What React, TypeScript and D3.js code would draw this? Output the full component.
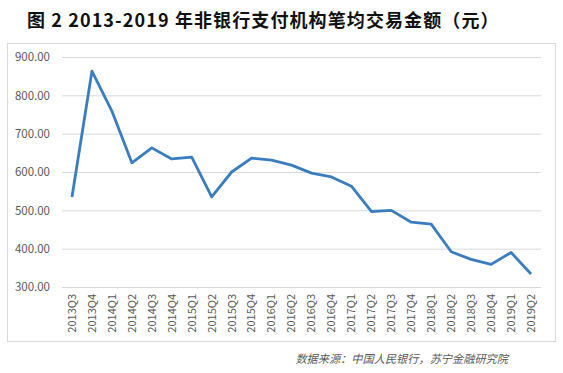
import { useEffect, useRef } from 'react';
import * as d3 from 'd3';

const quarters = [
  '2013Q3', '2013Q4', '2014Q1', '2014Q2', '2014Q3', '2014Q4', '2015Q1', '2015Q2',
  '2015Q3', '2015Q4', '2016Q1', '2016Q2', '2016Q3', '2016Q4', '2017Q1', '2017Q2',
  '2017Q3', '2017Q4', '2018Q1', '2018Q2', '2018Q3', '2018Q4', '2019Q1', '2019Q2',
];
const avgAmount = [
  535, 863, 759, 624, 663, 634, 639, 535,
  600, 636, 631, 618, 597, 587, 563, 497,
  500, 469, 464, 392, 372, 359, 390, 334,
];
const yTicks = [300, 400, 500, 600, 700, 800, 900];

const W = 563;
const H = 373;
const margin = { top: 57, right: 22, bottom: 86, left: 62 };

export default function App() {
  const svgRef = useRef<SVGSVGElement>(null);

  useEffect(() => {
    if (!svgRef.current) return;
    const svg = d3.select(svgRef.current);
    svg.selectAll('*').remove();

    const innerW = W - margin.left - margin.right;
    const innerH = H - margin.top - margin.bottom;
    const font = '"Microsoft YaHei", "Noto Sans CJK SC", "DejaVu Sans", sans-serif';

    svg.append('rect').attr('width', W).attr('height', H).attr('fill', '#fff');

    // title
    svg.append('text')
      .attr('x', 27)
      .attr('y', 27)
      .attr('font-family', '"Noto Sans CJK SC", sans-serif')
      .attr('font-weight', 'bold')
      .attr('font-size', 18)
      .attr('letter-spacing', 1.1)
      .attr('fill', '#111')
      .style('white-space', 'pre')
      .text('图 2 2013-2019 年非银行支付机构笔均交易金额（元）');

    // chart area frame
    svg.append('rect')
      .attr('x', 7.5)
      .attr('y', 43.5)
      .attr('width', 548)
      .attr('height', 298)
      .attr('fill', 'none')
      .attr('stroke', '#d9d9d9');

    const g = svg.append('g').attr('transform', `translate(${margin.left},${margin.top})`);

    const x = d3.scaleBand<string>().domain(quarters).range([0, innerW]);
    const y = d3.scaleLinear().domain([300, 900]).range([innerH, 0]);

    // grid
    const grid = g.append('g')
      .call(d3.axisLeft(y).tickValues(yTicks).tickSize(-innerW).tickFormat(() => ''));
    grid.select('.domain').remove();
    grid.selectAll('line').attr('stroke', '#d9d9d9');

    // y axis labels
    const yAxis = g.append('g')
      .call(d3.axisLeft(y).tickValues(yTicks).tickSize(0).tickPadding(12).tickFormat((d) => d3.format('.2f')(d as number)));
    yAxis.select('.domain').remove();
    yAxis.selectAll('text')
      .attr('font-family', font)
      .attr('font-size', 11.5)
      .attr('fill', '#595959');

    // x axis labels
    const xAxis = g.append('g')
      .attr('transform', `translate(0,${innerH})`)
      .call(d3.axisBottom(x).tickSize(0));
    xAxis.select('.domain').remove();
    xAxis.selectAll('text')
      .attr('font-family', font)
      .attr('font-size', 11)
      .attr('fill', '#595959')
      .attr('text-anchor', 'end')
      .attr('dy', '0.35em')
      .attr('transform', 'translate(0,7) rotate(-90)')
      .attr('x', 0)
      .attr('y', 0);

    const line = d3.line<number>()
      .x((_, i) => (x(quarters[i]) ?? 0) + x.bandwidth() / 2)
      .y((d) => y(d));

    g.append('path')
      .datum(avgAmount)
      .attr('fill', 'none')
      .attr('stroke', '#3a7dc0')
      .attr('stroke-width', 2.8)
      .attr('stroke-linejoin', 'round')
      .attr('d', line);

    svg.append('text')
      .attr('x', 508)
      .attr('y', 363)
      .attr('text-anchor', 'end')
      .attr('font-family', font)
      .attr('font-style', 'italic')
      .attr('font-size', 11.2)
      .attr('fill', '#595959')
      .text('数据来源：中国人民银行，苏宁金融研究院');
  }, []);

  return (
    <div style={{ position: 'absolute', left: 0, top: 0, width: W, height: H }}>
      <svg ref={svgRef} width={W} height={H} />
    </div>
  );
}
